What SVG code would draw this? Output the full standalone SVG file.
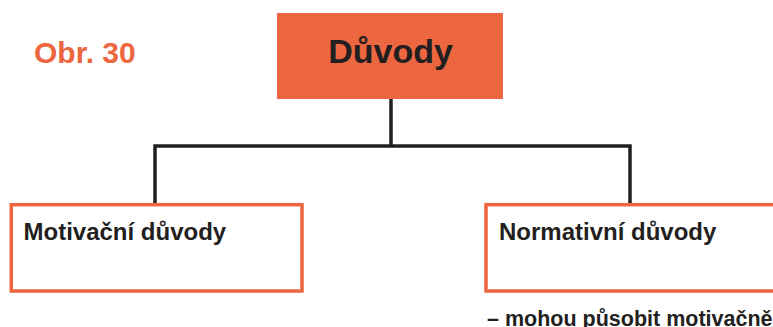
<svg xmlns="http://www.w3.org/2000/svg" width="773" height="327" viewBox="0 0 773 327">
  <style>
    .txt { font-family: "Liberation Sans", Arial, sans-serif; font-weight: bold; fill: #231F20; }
    .box { fill: #FFFFFF; stroke: #EC6640; stroke-width: 3.5; }
    .conn { fill: none; stroke: #231F20; stroke-width: 3.5; stroke-linejoin: miter; }
  </style>
  <rect width="773" height="327" fill="#FFFFFF"/>
  <g id="label">
    <text x="34" y="63" class="txt" style="fill:#EC6640" font-size="30">Obr. 30</text>
  </g>
  <g id="connectors">
    <path class="conn" d="M391 99 V146"/>
    <path class="conn" d="M155 204 V146 H630 V204"/>
  </g>
  <g id="duvody">
    <rect x="277" y="13" width="226" height="86" fill="#EC6640"/>
    <text x="390.5" y="63" class="txt" font-size="34" text-anchor="middle">Důvody</text>
  </g>
  <g id="motivacni">
    <rect class="box" x="11.3" y="204.7" width="290.7" height="86.3"/>
    <text x="23.5" y="239.5" class="txt" font-size="24">Motivační důvody</text>
  </g>
  <g id="normativni">
    <rect class="box" x="486" y="204.7" width="290.7" height="86.3"/>
    <text x="499" y="239.5" class="txt" font-size="24">Normativní důvody</text>
  </g>
  <g id="note">
    <text x="487" y="326" class="txt" font-size="21.5">– mohou působit motivačně</text>
  </g>
</svg>
